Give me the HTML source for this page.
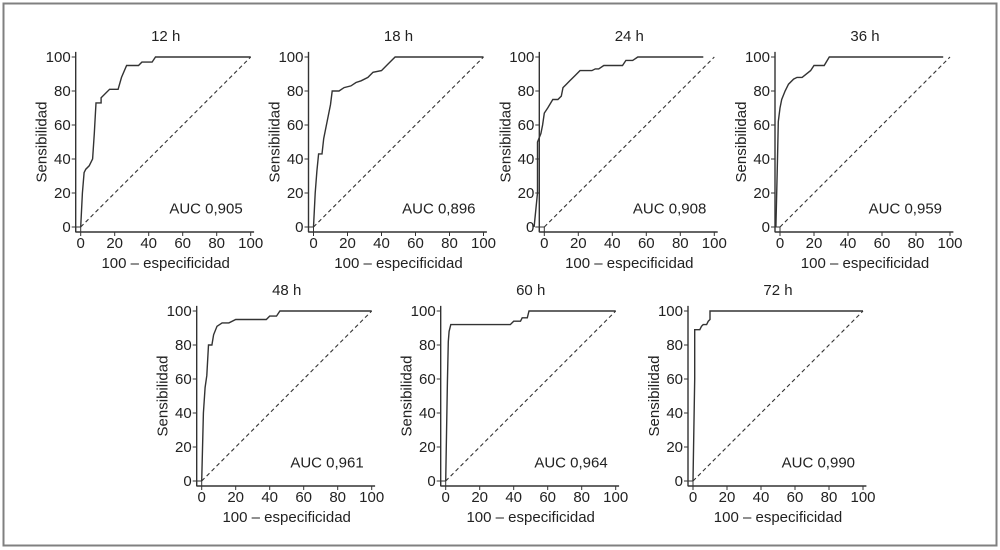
<!DOCTYPE html>
<html><head><meta charset="utf-8"><style>
html,body{margin:0;padding:0;background:#fff;}
svg{display:block;font-family:"Liberation Sans",Arial,sans-serif;}
</style></head><body>
<svg id="c" width="1000" height="550" viewBox="0 0 1000 550">
<rect x="3.5" y="3.5" width="993" height="542" fill="none" stroke="#808080" stroke-width="2"/>
</svg>
<script>
const titles = ["12 h","18 h","24 h","36 h","48 h","60 h","72 h"];
const aucLabels = ["AUC 0,905","AUC 0,896","AUC 0,908","AUC 0,959","AUC 0,961","AUC 0,964","AUC 0,990"];
const tickValues = [0,20,40,60,80,100];
const roc12 = [[0,0],[1,20],[2,32],[3,34],[5,36],[7,40],[8,55],[9,73],[12,73],[12,76],[17,81],[22,81],[24,88],[27,95],[34,95],[36,97],[42,97],[44,100],[100,100]];
const roc18 = [[0,0],[1,20],[2,33],[3,43],[5,43],[6,52],[8,62],[10,72],[11,80],[15,80],[18,82],[22,83],[25,85],[28,86],[32,88],[35,91],[40,92],[44,96],[48,100],[100,100]];
const roc24 = [[-6,0],[-4,20],[-4,50],[-2,55],[-1,60],[0,67],[2,70],[5,75],[8,75],[10,77],[11,82],[13,84],[15,86],[18,89],[21,92],[28,92],[30,93],[32,93],[35,95],[46,95],[48,98],[52,98],[55,100],[93.5,100]];
const roc36 = [[-2.4,0],[-1.5,40],[-1,62],[0,70],[1,75],[3,80],[5,84],[8,87],[10,88],[13,88],[18,92],[20,95],[26,95],[29,100],[96,100]];
const roc48 = [[0,0],[1,40],[2,55],[3,62],[4,80],[6,80],[7,86],[9,91],[12,93],[16,93],[20,95],[38,95],[40,97],[44,97],[46,100],[100,100]];
const roc60 = [[0,0],[1,58],[1.5,82],[2,88],[3,92],[38,92],[40,94],[44,94],[45,96],[48,96],[49,100],[100,100]];
const roc72 = [[0,0],[1,60],[1,89],[4,89],[5,91],[6,92],[8,92],[9,94],[10,95],[10,100],[100,100]];
const series = [roc12,roc18,roc24,roc36,roc48,roc60,roc72];

const layout = [
  {x0:80.7,y0:227},{x0:313.5,y0:227},{x0:544.3,y0:227},{x0:780,y0:227},
  {x0:201.7,y0:481},{x0:445.7,y0:481},{x0:693,y0:481}
];
const S = 1.7;
const FS = 15;
const svg = document.getElementById('c');
const NS = "http://www.w3.org/2000/svg";
function mk(tag, attrs, parent){
  const e = document.createElementNS(NS, tag);
  for (const k in attrs) e.setAttribute(k, attrs[k]);
  parent.appendChild(e);
  return e;
}
series.forEach((data, i) => {
  const L = layout[i];
  const sx = v => L.x0 + v * S;
  const sy = v => L.y0 - v * S;
  const g = mk('g', {}, svg);
  
  
  const axY = L.y0 + 5, axX = L.x0 - 5;
  const xa = mk('line', {x1:axX, y1:axY, x2:sx(102), y2:axY, stroke:'#333', 'stroke-width':1.4}, g);
  
  
  const ya = mk('line', {x1:axX, y1:axY, x2:axX, y2:sy(103), stroke:'#333', 'stroke-width':1.4}, g);
  
  
  const sq = mk('rect', {x:axX, y:L.y0, width:5, height:5, fill:'none', stroke:'#333', 'stroke-width':1}, g);
  
  
  tickValues.forEach(t => {
    mk('line', {x1:sx(t), y1:axY, x2:sx(t), y2:axY+4, stroke:'#333', 'stroke-width':1}, g);
    const tx = mk('text', {x:sx(t), y:axY+16, 'font-size':FS, 'text-anchor':'middle', fill:'#222'}, g);
    tx.textContent = t;
    
    
    mk('line', {x1:axX-4, y1:sy(t), x2:axX, y2:sy(t), stroke:'#333', 'stroke-width':1}, g);
    const ty = mk('text', {x:axX-5, y:sy(t)+5, 'font-size':FS, 'text-anchor':'end', fill:'#222'}, g);
    ty.textContent = t;
    
    
  });
  const xt = mk('text', {x:sx(50), y:axY+36, 'font-size':FS, 'text-anchor':'middle', fill:'#222'}, g);
  xt.textContent = '100 – especificidad';
  
  
  const yx = axX - 29, yy = sy(50);
  const yt = mk('text', {x:yx, y:yy, 'font-size':FS, 'text-anchor':'middle', fill:'#222', transform:`rotate(-90 ${yx} ${yy})`}, g);
  yt.textContent = 'Sensibilidad';
  
  
  const tt = mk('text', {x:sx(50), y:sy(100)-16, 'font-size':FS, 'text-anchor':'middle', fill:'#222'}, g);
  tt.textContent = titles[i];
  
  
  const at = mk('text', {x:sx(100)-8, y:sy(8), 'font-size':FS, 'text-anchor':'end', fill:'#222'}, g);
  at.textContent = aucLabels[i];
  
  
  const ref = mk('line', {x1:sx(0), y1:sy(0), x2:sx(100), y2:sy(100), stroke:'#333', 'stroke-width':1.1, 'stroke-dasharray':'4,3'}, g);
  
  
  const pts = data.map(p => sx(p[0]).toFixed(1) + ',' + sy(p[1]).toFixed(1)).join(' ');
  const pl = mk('polyline', {points:pts, fill:'none', stroke:'#333', 'stroke-width':1.4}, g);
  
  
});
</script>
</body></html>
